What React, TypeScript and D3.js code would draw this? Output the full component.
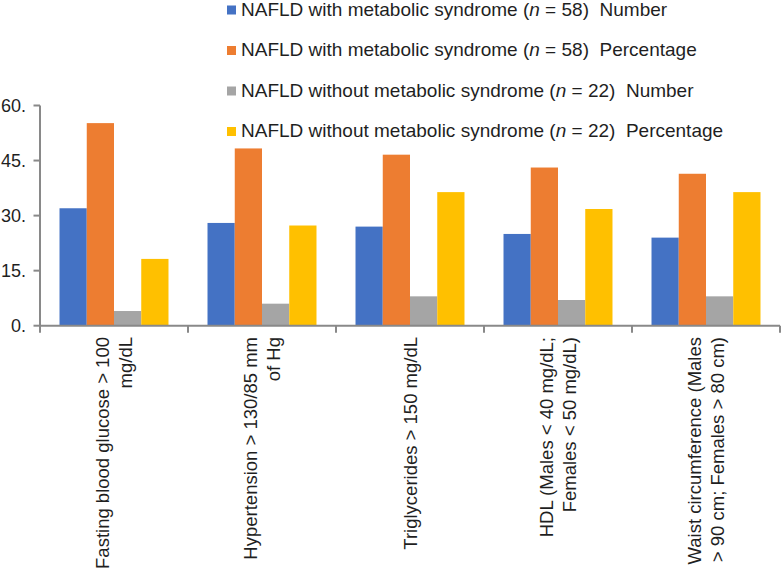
import React from 'react';
import * as d3 from 'd3';

// criteria on the x axis, one array of lines per label
const categories = ['Fasting', 'Hypertension', 'Triglycerides', 'HDL', 'Waist'];
const categoryLines = [
  ['Fasting blood glucose > 100', 'mg/dL'],
  ['Hypertension > 130/85 mm', 'of Hg'],
  ['Triglycerides > 150 mg/dL'],
  ['HDL (Males < 40 mg/dL;', 'Females < 50 mg/dL)'],
  ['Waist circumference (Males', '> 90 cm; Females > 80 cm)'],
];

// series
const seriesKeys = ['withNum', 'withPct', 'withoutNum', 'withoutPct'];
const seriesGroup = [
  'NAFLD with metabolic syndrome',
  'NAFLD with metabolic syndrome',
  'NAFLD without metabolic syndrome',
  'NAFLD without metabolic syndrome',
];
const seriesN = [58, 58, 22, 22];
const seriesMeasure = ['Number', 'Percentage', 'Number', 'Percentage'];
const seriesColors = ['#4472C4', '#ED7D31', '#A5A5A5', '#FFC000'];

const withNumber = [32, 28, 27, 25, 24];
const withPercent = [55.2, 48.3, 46.6, 43.1, 41.4];
const withoutNumber = [4, 6, 8, 7, 8];
const withoutPercent = [18.2, 27.3, 36.4, 31.8, 36.4];
const seriesValues = [withNumber, withPercent, withoutNumber, withoutPercent];

const yTicks = [0, 15, 30, 45, 60];

const W = 781;
const H = 575;
const FONT = 'Arial, "Liberation Sans", Helvetica, sans-serif';
const TEXT = '#1f1f1f';
const AXIS = '#898989';

export default function App() {
  const x = d3.scaleBand<string>().domain(categories).range([40, 780]).padding(0);
  const xs = d3
    .scaleBand<string>()
    .domain(seriesKeys)
    .range([0, x.bandwidth()])
    .paddingInner(0)
    .paddingOuter(0.716);
  const y = d3.scaleLinear().domain([0, 60]).range([325.7, 105.5]);

  const x0 = x.range()[0];
  const x1 = x.range()[1];
  const boundaries = categories.map((c) => x(c) as number).concat([x1]);

  return (
    <div style={{ position: 'absolute', left: 0, top: 0 }}>
      <svg width={W} height={H} style={{ display: 'block', background: '#fff' }} fontFamily={FONT}>
        {/* legend */}
        {seriesKeys.map((k, i) => {
          const by = 15.5 + i * 40.5;
          return (
            <g key={k}>
              <rect x={227} y={by - 10} width={9} height={9} fill={seriesColors[i]} />
              <text x={241} y={by} fontSize={19} fill={TEXT} xmlSpace="preserve">
                {seriesGroup[i] + ' ('}
                <tspan fontStyle="italic">n</tspan>
                {` = ${seriesN[i]})  ${seriesMeasure[i]}`}
              </text>
            </g>
          );
        })}

        {/* bars */}
        {categories.map((c, ci) => (
          <g key={c} transform={`translate(${x(c)},0)`}>
            {seriesKeys.map((k, si) => {
              const v = seriesValues[si][ci];
              return (
                <rect
                  key={k}
                  x={xs(k)}
                  y={y(v)}
                  width={xs.bandwidth()}
                  height={y(0) - y(v)}
                  fill={seriesColors[si]}
                />
              );
            })}
          </g>
        ))}

        {/* y axis */}
        <line x1={x0} x2={x0} y1={y(60)} y2={y(0)} stroke={AXIS} strokeWidth={2} />
        {yTicks.map((t) => (
          <g key={t}>
            <line x1={x0 - 6.5} x2={x0} y1={y(t)} y2={y(t)} stroke={AXIS} strokeWidth={2} />
            <text x={26} y={y(t)} dy="0.36em" textAnchor="end" fontSize={18} fill={TEXT}>
              {`${t}.`}
            </text>
          </g>
        ))}

        {/* x axis */}
        <line x1={x0} x2={x1} y1={y(0)} y2={y(0)} stroke={AXIS} strokeWidth={2} />
        {boundaries.map((b, i) => (
          <line key={i} x1={b} x2={b} y1={y(0)} y2={y(0) + 7} stroke={AXIS} strokeWidth={2} />
        ))}
        {categories.map((c, ci) => {
          const cx = (x(c) as number) + x.bandwidth() / 2;
          const lines = categoryLines[ci];
          const lh = 23;
          return (
            <text
              key={c}
              transform={`translate(${cx},337) rotate(-90)`}
              textAnchor="end"
              fontSize={18.5}
              fill={TEXT}
            >
              {lines.map((l, li) => (
                <tspan key={li} x={0} y={(li - (lines.length - 1) / 2) * lh} dy="0.36em">
                  {l}
                </tspan>
              ))}
            </text>
          );
        })}
      </svg>
    </div>
  );
}
